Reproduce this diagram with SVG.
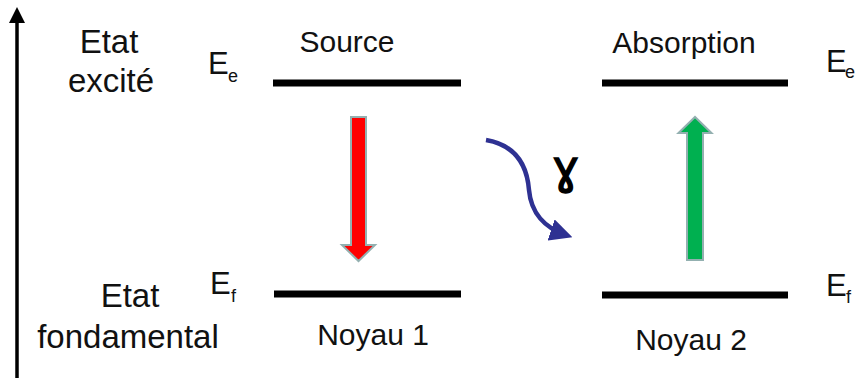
<svg xmlns="http://www.w3.org/2000/svg" width="857" height="378" viewBox="0 0 857 378">
<style>
text{font-family:"Liberation Sans",Arial,sans-serif;fill:#111}
.lbl{font-size:30px;text-anchor:middle}
.st{font-size:33px;text-anchor:middle}
.E{font-size:31px}
.sub{font-size:18px}
.level{stroke:#000;stroke-width:7}
.trans{stroke:#93b0b0;stroke-width:2;stroke-linejoin:miter}
</style>
<defs>
<marker id="ah" viewBox="0 0 10 10" refX="7" refY="5" markerWidth="5" markerHeight="5" orient="auto" markerUnits="strokeWidth">
<path d="M0,0 L10,5 L0,10 z" fill="#2e3192"/>
</marker>
</defs>
<g id="axis">
<line x1="17" y1="378" x2="17" y2="20" stroke="#000" stroke-width="3.5"/>
<polygon points="9,23 17,7 25,23" fill="#000"/>
</g>
<g id="state-labels">
<text class="st" x="109" y="53">Etat</text>
<text class="st" x="111" y="92">excité</text>
<text class="st" x="130" y="307">Etat</text>
<text class="st" x="128" y="348">fondamental</text>
</g>
<g id="noyau1">
<text class="lbl" x="347" y="52">Source</text>
<line class="level" x1="273" y1="83" x2="461" y2="83"/>
<line class="level" x1="274" y1="294" x2="461" y2="294"/>
<text class="lbl" x="373" y="345">Noyau 1</text>
<text class="E" x="208" y="74">E</text><text class="sub" x="228" y="82">e</text>
<text class="E" x="210" y="294">E</text><text class="sub" x="231" y="302">f</text>
<polygon class="trans" fill="#ff0000" points="351,117 366,117 366,245 375,245 358.5,261 342,245 351,245"/>
</g>
<g id="noyau2">
<text class="lbl" x="684" y="53">Absorption</text>
<line class="level" x1="602" y1="83" x2="788" y2="83"/>
<line class="level" x1="602" y1="295" x2="788" y2="295"/>
<text class="lbl" x="691" y="350">Noyau 2</text>
<text class="E" x="826" y="72">E</text><text class="sub" x="845" y="78">e</text>
<text class="E" x="826" y="296">E</text><text class="sub" x="846" y="303">f</text>
<polygon class="trans" fill="#00b050" points="687,260 703,260 703,133 711.5,133 695,117 678.5,133 687,133"/>
</g>
<g id="connectors">
<path d="M486,140 C515,145 527,165 529,190 C531,213 545,228 566,235" fill="none" stroke="#2e3192" stroke-width="4.5" marker-end="url(#ah)"/>
<text x="552" y="183" style="font-family:'DejaVu Sans',sans-serif;font-size:46px;fill:#000;stroke:#000;stroke-width:1.4">ɣ</text>
</g>
</svg>
